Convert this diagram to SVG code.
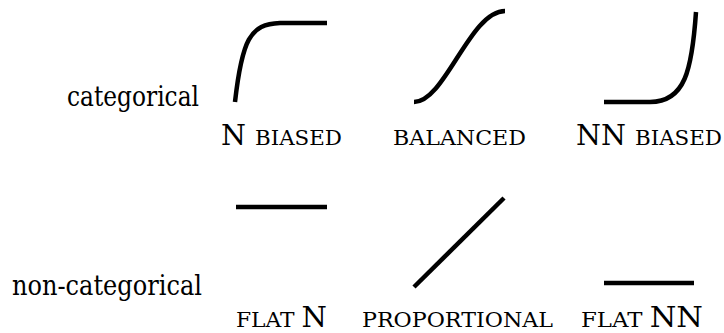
<svg xmlns="http://www.w3.org/2000/svg" width="724" height="333" viewBox="0 0 724 333">
<style>
.c{fill:none;stroke:#000;stroke-width:4.5;stroke-linecap:butt}
text{font-family:"DejaVu Serif","Liberation Serif",serif;fill:#000}
.big{font-size:28px}
.sc{font-size:21px}
</style>
<rect width="724" height="333" fill="#fff"/>
<g id="row-labels">
<text x="67" y="106" class="big" textLength="132" lengthAdjust="spacingAndGlyphs">categorical</text>
<text x="12" y="295" class="big" textLength="190" lengthAdjust="spacingAndGlyphs">non-categorical</text>
</g>
<g id="n-biased">
<path class="c" d="M235,102 C242,40 250,24 280,23 L327,23"/>
<text x="221" y="145" textLength="121" lengthAdjust="spacingAndGlyphs"><tspan class="big">N </tspan><tspan class="sc">BIASED</tspan></text>
</g>
<g id="balanced">
<path class="c" d="M414,102 C445,102 470,11 505,11"/>
<text x="393" y="145" class="sc" textLength="133" lengthAdjust="spacingAndGlyphs">BALANCED</text>
</g>
<g id="nn-biased">
<path class="c" d="M604,102 L650,102 C685,102 692,70 696,12"/>
<text x="576" y="145" textLength="146" lengthAdjust="spacingAndGlyphs"><tspan class="big">NN </tspan><tspan class="sc">BIASED</tspan></text>
</g>
<g id="flat-n">
<path class="c" d="M236,207 L327,207"/>
<text x="236" y="327" textLength="91" lengthAdjust="spacingAndGlyphs"><tspan class="sc">FLAT </tspan><tspan class="big">N</tspan></text>
</g>
<g id="proportional">
<path class="c" d="M414,287 L504,198"/>
<text x="362" y="327" class="sc" textLength="191" lengthAdjust="spacingAndGlyphs">PROPORTIONAL</text>
</g>
<g id="flat-nn">
<path class="c" d="M604,283 L694,283"/>
<text x="581" y="327" textLength="122" lengthAdjust="spacingAndGlyphs"><tspan class="sc">FLAT </tspan><tspan class="big">NN</tspan></text>
</g>
<g id="connectors"></g>
</svg>
